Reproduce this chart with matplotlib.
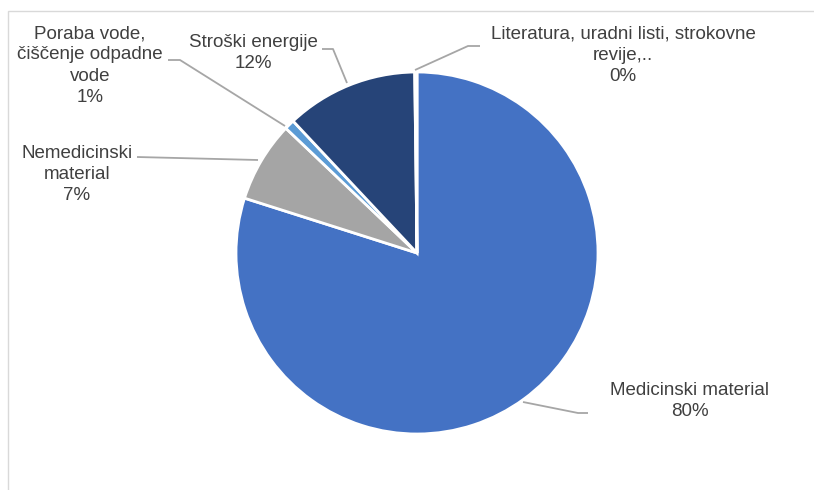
import matplotlib
matplotlib.use("Agg")
import matplotlib.pyplot as plt
from matplotlib.patches import Rectangle

labels = ["Medicinski material", "Nemedicinski material", "Poraba vode, čiščenje odpadne vode",
          "Stroški energije", "Literatura, uradni listi, strokovne revije,.."]
values = [79.9, 7.2, 0.9, 11.8, 0.2]
pct_labels = ["80%", "7%", "1%", "12%", "0%"]
label_texts = ["Medicinski material\n80%", "Nemedicinski\nmaterial\n7%",
               "Poraba vode,\nčiščenje odpadne\nvode\n1%", "Stroški energije\n12%",
               "Literatura, uradni listi, strokovne\nrevije,..\n0%"]
colors = ["#4472C4", "#A5A5A5", "#5B9BD5", "#264478", "#7F6000"]

W, H = 814, 490
fig = plt.figure(figsize=(W / 100, H / 100), dpi=100)
ax = fig.add_axes([0, 0, 1, 1])

def py(y):
    return H - y

ax.pie(values, colors=colors, startangle=90, counterclock=False,
       center=(417, py(253)), radius=181, frame=True,
       wedgeprops=dict(edgecolor="white", linewidth=2.0))
ax.set_xlim(0, W)
ax.set_ylim(0, H)
ax.set_aspect("equal")
ax.axis("off")

# frame
ax.add_patch(Rectangle((7.5, -20), 900, py(11) + 20, fill=False, edgecolor="#D9D9D9", lw=1.0))

text_pos = [(690, 401), (77, 174.5), (90, 65.5), (253, 53), (623, 55.5)]
leaders = [
    [(523, 402), (578, 413), (588, 413)],
    [(137, 157), (258, 160)],
    [(168, 60), (180, 60), (285, 126)],
    [(322, 49), (333, 49), (347, 83)],
    [(415, 70), (468, 46), (480, 46)],
]

for t, (x, y) in zip(label_texts, text_pos):
    ax.text(x, py(y), t, ha="center", va="center", fontsize=13.5,
            family=["Liberation Sans", "DejaVu Sans"], color="#404040", linespacing=1.33)

for pts in leaders:
    xs = [p[0] for p in pts]
    ys = [py(p[1]) for p in pts]
    ax.plot(xs, ys, color="#A6A6A6", lw=1.3, solid_capstyle="butt")

fig.savefig("out.png", dpi=100)
